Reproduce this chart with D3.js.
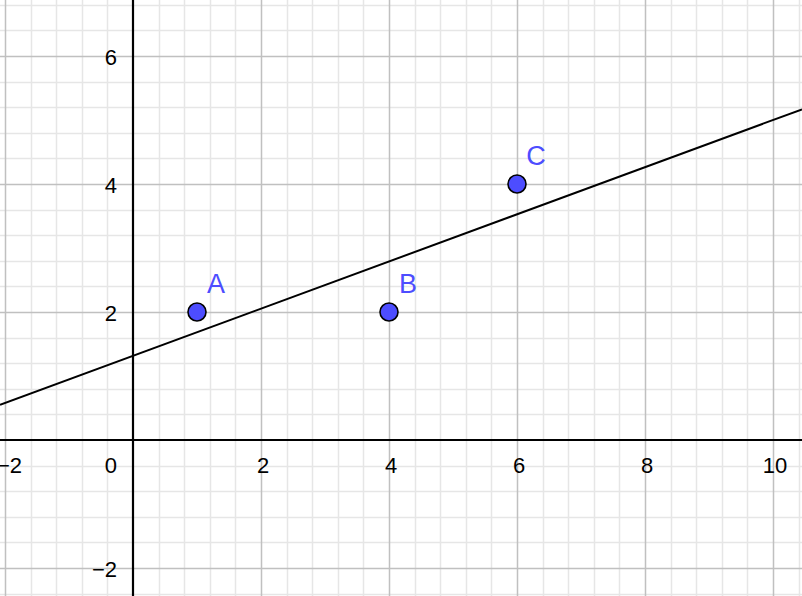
<!DOCTYPE html>
<html><head><meta charset="utf-8">
<script src="https://cdn.jsdelivr.net/npm/d3@7"></script>
<style>body{margin:0;background:#fff;}svg{display:block;font-family:"Liberation Sans",Arial,Helvetica,sans-serif;}</style>
</head><body>
<script>
const pointNames = ["A", "B", "C"];
const pointX = [1, 4, 6];
const pointY = [2, 2, 4];
const xTicks = [-2, 0, 2, 4, 6, 8, 10];
const yTicks = [-2, 2, 4, 6];
const xDomain = [-133/64, (802-133)/64];
const yDomain = [-(596-440)/64, 440/64];

const W = 802, H = 596;
const svg = d3.select("body").append("svg").attr("width", W).attr("height", H);
const x = d3.scaleLinear().domain(xDomain).range([0, W]);
const y = d3.scaleLinear().domain(yDomain).range([H, 0]);

// minor grid
const minorX = d3.range(Math.ceil(xDomain[0]/0.4), Math.floor(xDomain[1]/0.4)+1).map(i => i*0.4).filter(v => Math.abs(v/2 - Math.round(v/2)) > 1e-6);
const minorY = d3.range(Math.ceil(yDomain[0]/0.4), Math.floor(yDomain[1]/0.4)+1).map(i => i*0.4).filter(v => Math.abs(v/2 - Math.round(v/2)) > 1e-6);
const majorX = d3.range(Math.ceil(xDomain[0]/2), Math.floor(xDomain[1]/2)+1).map(i => i*2).filter(v => v !== 0);
const majorY = d3.range(Math.ceil(yDomain[0]/2), Math.floor(yDomain[1]/2)+1).map(i => i*2).filter(v => v !== 0);

const g = svg.append("g");
g.selectAll(".mx").data(minorX).join("line").attr("x1", d => Math.round(x(d))+0.5).attr("x2", d => Math.round(x(d))+0.5).attr("y1", 0).attr("y2", H).attr("stroke", "#e6e6e6").attr("stroke-width", 1.5);
g.selectAll(".my").data(minorY).join("line").attr("y1", d => Math.round(y(d))+0.5).attr("y2", d => Math.round(y(d))+0.5).attr("x1", 0).attr("x2", W).attr("stroke", "#e6e6e6").attr("stroke-width", 1.5);
g.selectAll(".Mx").data(majorX).join("line").attr("x1", d => x(d)+0.5).attr("x2", d => x(d)+0.5).attr("y1", 0).attr("y2", H).attr("stroke", "#c0c0c0").attr("stroke-width", 1.5);
g.selectAll(".My").data(majorY).join("line").attr("y1", d => y(d)+0.5).attr("y2", d => y(d)+0.5).attr("x1", 0).attr("x2", W).attr("stroke", "#c0c0c0").attr("stroke-width", 1.5);

// axes
svg.append("line").attr("x1", 0).attr("x2", W).attr("y1", y(0)).attr("y2", y(0)).attr("stroke", "#000").attr("stroke-width", 2.2);
svg.append("line").attr("x1", x(0)).attr("x2", x(0)).attr("y1", 0).attr("y2", H).attr("stroke", "#000").attr("stroke-width", 2.2);

// tick labels
const fmt = v => v < 0 ? "\u2212" + Math.abs(v) : String(v);
svg.selectAll(".xt").data(xTicks).join("text")
  .attr("x", d => d === 0 ? x(0) - 16 : d < 0 ? x(d) + 17 : x(d) + 2)
  .attr("y", y(0) + 33)
  .attr("text-anchor", d => d <= 0 ? "end" : "middle")
  .attr("font-size", 22).attr("fill", "#000").text(fmt);
svg.selectAll(".yt").data(yTicks).join("text")
  .attr("x", x(0) - 16).attr("y", d => y(d) + 8.5)
  .attr("text-anchor", "end").attr("font-size", 22).attr("fill", "#000").text(fmt);

// least squares line
const mx = d3.mean(pointX), my = d3.mean(pointY);
const slope = d3.sum(pointX, (v, i) => (v - mx) * (pointY[i] - my)) / d3.sum(pointX, v => (v - mx) ** 2);
const icpt = my - slope * mx;
svg.append("line").attr("x1", x(xDomain[0])).attr("y1", y(icpt + slope*xDomain[0]))
  .attr("x2", x(xDomain[1])).attr("y2", y(icpt + slope*xDomain[1]))
  .attr("stroke", "#000").attr("stroke-width", 2);

// points
const pts = pointNames.map((n, i) => ({n, x: pointX[i], y: pointY[i]}));
svg.selectAll(".pt").data(pts).join("circle").attr("cx", d => x(d.x)).attr("cy", d => y(d.y)).attr("r", 9)
  .attr("fill", "#4d4dff").attr("stroke", "#000").attr("stroke-width", 1.6);
svg.selectAll(".pl").data(pts).join("text").attr("x", d => x(d.x) + 19).attr("y", d => y(d.y) - 19)
  .attr("text-anchor", "middle").attr("font-size", 27).attr("fill", "#4d4dff").text(d => d.n);
</script>
</body></html>
